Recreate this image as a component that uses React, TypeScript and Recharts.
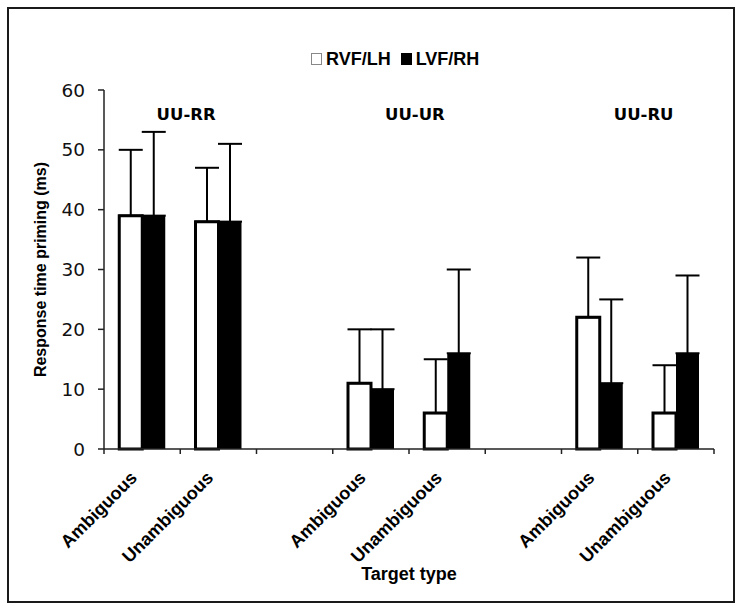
import React from 'react';
import { BarChart, Bar, XAxis, YAxis, ErrorBar, Legend, ReferenceDot } from 'recharts';

const categories = ['Ambiguous', 'Unambiguous', '', 'Ambiguous', 'Unambiguous', '', 'Ambiguous', 'Unambiguous'];
const seriesNames = ['RVF/LH', 'LVF/RH'];
const rvfLh = [39, 38, null, 11, 6, null, 22, 6];
const lvfRh = [39, 38, null, 10, 16, null, 11, 16];
const rvfLhErr = [11, 9, null, 9, 9, null, 10, 8];
const lvfRhErr = [14, 13, null, 10, 14, null, 14, 13];
const groupLabels = ['UU-RR', 'UU-UR', 'UU-RU'];
const groupStart = [0, 3, 6];
const yTicks = [0, 10, 20, 30, 40, 50, 60];

const data = categories.map((name, i) => ({
  id: `c${i}`,
  name,
  rvf: rvfLh[i],
  lvf: lvfRh[i],
  rvfErr: rvfLhErr[i] == null ? null : [0, rvfLhErr[i]],
  lvfErr: lvfRhErr[i] == null ? null : [0, lvfRhErr[i]],
}));

const AXIS = '#222';
const ARIAL = '"Liberation Sans", Arial, sans-serif';
const VERDANA = '"DejaVu Sans", Verdana, sans-serif';

const XTick = (props: any) => {
  const { x, y, payload, index } = props;
  const off = payload && payload.offset != null ? payload.offset : 0;
  const label = categories[index] ?? '';
  const tx = x - 4;
  const ty = y + 30;
  return (
    <g>
      <line x1={x - off} x2={x - off} y1={y} y2={y + 5} stroke={AXIS} strokeWidth={1.5} />
      {index === categories.length - 1 && (
        <line x1={x + off} x2={x + off} y1={y} y2={y + 5} stroke={AXIS} strokeWidth={1.5} />
      )}
      {label && (
        <text
          x={tx}
          y={ty}
          textAnchor="end"
          transform={`rotate(-45, ${tx}, ${ty})`}
          fontFamily={ARIAL}
          fontWeight="bold"
          fontSize={18}
          fill="#000"
        >
          {label}
        </text>
      )}
    </g>
  );
};

const renderYLabel = (props: any) => {
  const vb = props.viewBox || {};
  const x = vb.x + 26;
  const y = vb.y + vb.height / 2;
  return (
    <text
      x={x}
      y={y}
      textAnchor="middle"
      transform={`rotate(-90, ${x}, ${y})`}
      fontFamily={ARIAL}
      fontWeight="bold"
      fontSize={16}
      fill="#000"
    >
      Response time priming (ms)
    </text>
  );
};

const renderLegend = (props: any) => {
  const payload = [...(props.payload || [])].sort(
    (a: any, b: any) => seriesNames.indexOf(a.value) - seriesNames.indexOf(b.value)
  );
  return (
    <div
      style={{
        display: 'flex',
        alignItems: 'center',
        fontFamily: ARIAL,
        fontWeight: 'bold',
        fontSize: 18,
        lineHeight: '20px',
        color: '#000',
      }}
    >
      {payload.map((p: any, i: number) => (
        <div key={i} style={{ display: 'flex', alignItems: 'center', marginRight: 10 }}>
          <span
            style={{
              display: 'inline-block',
              width: 11,
              height: 12,
              background: p.color,
              border: `1px solid ${p.color === '#fff' ? '#888' : '#000'}`,
              boxSizing: 'border-box',
              marginRight: 4,
            }}
          />
          <span>{p.value}</span>
        </div>
      ))}
    </div>
  );
};

const groupLabelContent = (text: string) => (props: any) => {
  const vb = props.viewBox || {};
  const cx = vb.x + (vb.width || 0) / 2;
  const cy = vb.y + (vb.height || 0) / 2;
  return (
    <text x={cx + 44} y={cy} textAnchor="middle" fontFamily={VERDANA} fontWeight="bold" fontSize={16.5} fill="#000">
      {text}
    </text>
  );
};

export default function App() {
  return (
    <div style={{ position: 'absolute', left: 0, top: 0, width: 742, height: 610, background: '#fff' }}>
      <BarChart
        width={742}
        height={610}
        data={data}
        margin={{ top: 90, right: 28, bottom: 20, left: 20 }}
        barCategoryGap="20%"
        barGap={0}
      >
        <XAxis
          dataKey="id"
          height={141}
          interval={0}
          tickSize={0}
          tickMargin={0}
          tickLine={false}
          tick={<XTick />}
          axisLine={{ stroke: AXIS, strokeWidth: 1.5 }}
          label={{
            value: 'Target type',
            position: 'insideBottom',
            offset: 10,
            fontFamily: ARIAL,
            fontWeight: 'bold',
            fontSize: 18,
            fill: '#000',
          }}
        />
        <XAxis
          xAxisId="top"
          orientation="top"
          dataKey="id"
          height={0}
          tick={false}
          tickLine={false}
          axisLine={{ stroke: AXIS, strokeWidth: 1.5 }}
        />
        <YAxis
          domain={[0, 60]}
          ticks={yTicks}
          width={84}
          tickSize={6}
          tickMargin={13}
          tick={{ fontFamily: VERDANA, fontSize: 18.5, fill: '#111' }}
          tickLine={{ stroke: AXIS, strokeWidth: 1.5 }}
          axisLine={{ stroke: AXIS, strokeWidth: 1.5 }}
          label={renderYLabel}
        />
        <YAxis
          yAxisId="right"
          orientation="right"
          domain={[0, 60]}
          width={0}
          tick={false}
          tickLine={false}
          axisLine={{ stroke: AXIS, strokeWidth: 1.5 }}
        />
        <Legend
          verticalAlign="middle"
          align="center"
          layout="horizontal"
          wrapperStyle={{ left: 311, top: 49, width: 220, height: 22 }}
          content={renderLegend}
        />
        <Bar dataKey="rvf" name={seriesNames[0]} fill="#fff" stroke="#000" strokeWidth={3} isAnimationActive={false}>
          <ErrorBar dataKey="rvfErr" direction="y" width={12} strokeWidth={2} stroke="#000" />
        </Bar>
        <Bar dataKey="lvf" name={seriesNames[1]} fill="#000" isAnimationActive={false}>
          <ErrorBar dataKey="lvfErr" direction="y" width={12} strokeWidth={2} stroke="#000" />
        </Bar>
        {groupLabels.map((g, i) => (
          <ReferenceDot
            key={g}
            x={`c${groupStart[i]}`}
            y={55}
            r={0}
            fill="none"
            stroke="none"
            label={groupLabelContent(g)}
          />
        ))}
      </BarChart>
      <div
        style={{
          position: 'absolute',
          left: 7,
          top: 7,
          width: 728,
          height: 596,
          border: '2px solid #1a1a1a',
          boxSizing: 'border-box',
          pointerEvents: 'none',
        }}
      />
    </div>
  );
}
